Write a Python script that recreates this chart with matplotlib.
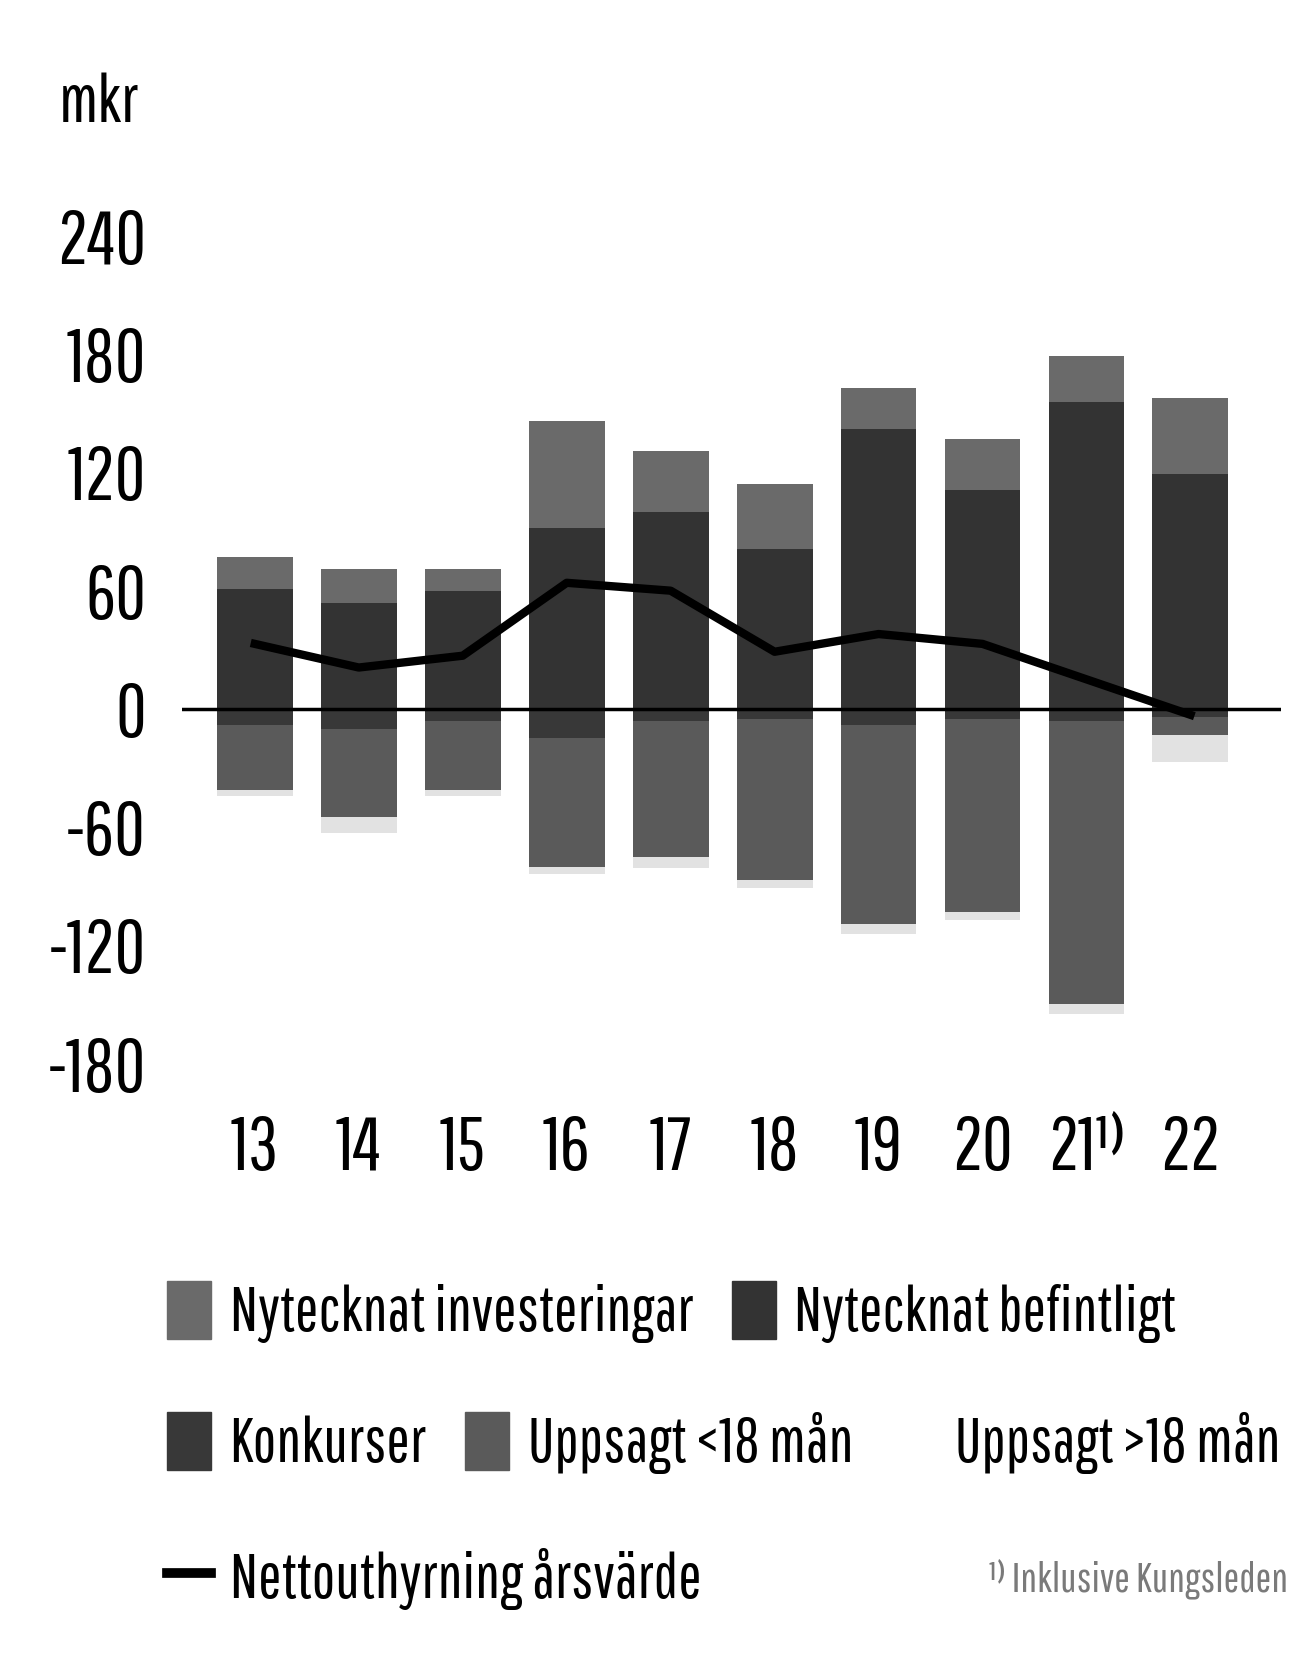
import numpy as np
import matplotlib
matplotlib.use('Agg')
import matplotlib.pyplot as plt
from matplotlib.patches import Patch
from matplotlib.lines import Line2D

plt.rcParams['font.family'] = ['Pathway Gothic One', 'Roboto Condensed', 'Liberation Sans', 'DejaVu Sans']

# data (mkr)
years = ['13', '14', '15', '16', '17', '18', '19', '20', '21¹⁾', '22']
nyt_befintligt = [61, 54, 60, 92, 100, 81, 142, 111, 156, 119]
nyt_investeringar = [16, 17, 11, 54, 31, 33, 21, 26, 23, 39]
konkurser = [-8, -10, -6, -15, -6, -5, -8, -5, -6, -4]
uppsagt_kort = [-33, -45, -35, -65, -69, -82, -101, -98, -144, -9]
uppsagt_lang = [-3, -8, -3, -4, -6, -4, -5, -4, -5, -14]
netto = [33, 21, 27, 64, 60, 29, 38, 33, 15, -3]
yticks = [240, 180, 120, 60, 0, -60, -120, -180]

c_inv = '#6a6a6a'
c_bef = '#333333'
c_konk = '#383838'
c_kort = '#5a5a5a'
c_lang = '#e2e2e2'

fig = plt.figure(figsize=(13.05, 16.64), dpi=100)
ax = fig.add_axes([0.1395, 0.349, 0.842, 0.521])

x = np.arange(len(years))
w = 0.73
ax.bar(x, nyt_befintligt, w, color=c_bef)
ax.bar(x, nyt_investeringar, w, bottom=nyt_befintligt, color=c_inv)
ax.bar(x, konkurser, w, color=c_konk)
ax.bar(x, uppsagt_kort, w, bottom=konkurser, color=c_kort)
low = np.array(konkurser) + np.array(uppsagt_kort)
ax.bar(x, uppsagt_lang, w, bottom=low, color=c_lang)
ax.axhline(0, color='black', lw=2.5, zorder=3)
ax.plot(x, netto, color='black', lw=6, zorder=4)

ax.set_xlim(-0.7, 9.87)
ax.set_ylim(-190, 250)
ax.set_yticks(yticks)
ax.set_yticklabels([str(t) for t in yticks], fontsize=54)
ax.set_xticks(x)
ax.set_xticklabels(years, fontsize=54)
ax.tick_params(axis='y', length=0, pad=26)
ax.tick_params(axis='x', length=0, pad=22)
for s in ax.spines.values():
    s.set_visible(False)

fig.text(0.045, 0.938, 'mkr', fontsize=48, va='center')

row1 = [Patch(color=c_inv, label='Nytecknat investeringar'),
        Patch(color=c_bef, label='Nytecknat befintligt')]
row2 = [Patch(color=c_konk, label='Konkurser'),
        Patch(color=c_kort, label='Uppsagt <18 mån'),
        Patch(color='white', label='Uppsagt >18 mån')]
row3 = [Line2D([], [], color='black', lw=7, label='Nettouthyrning årsvärde')]

kw = dict(frameon=False, fontsize=45, handlelength=0.7, handleheight=1.05,
          handletextpad=0.3, columnspacing=0.62, borderpad=0, borderaxespad=0)
l1 = fig.legend(handles=row1, loc='center left', bbox_to_anchor=(0.128, 0.2115), ncol=2, **kw)
l2 = fig.legend(handles=row2, loc='center left', bbox_to_anchor=(0.128, 0.133), ncol=3, **kw)
l3 = fig.legend(handles=row3, loc='center left', bbox_to_anchor=(0.128, 0.051), ncol=1, **kw)
fig.text(0.758, 0.051, '¹⁾ Inklusive Kungsleden', fontsize=30, color='#7a7a7a', va='center')

fig.savefig('out.png', dpi=100)
